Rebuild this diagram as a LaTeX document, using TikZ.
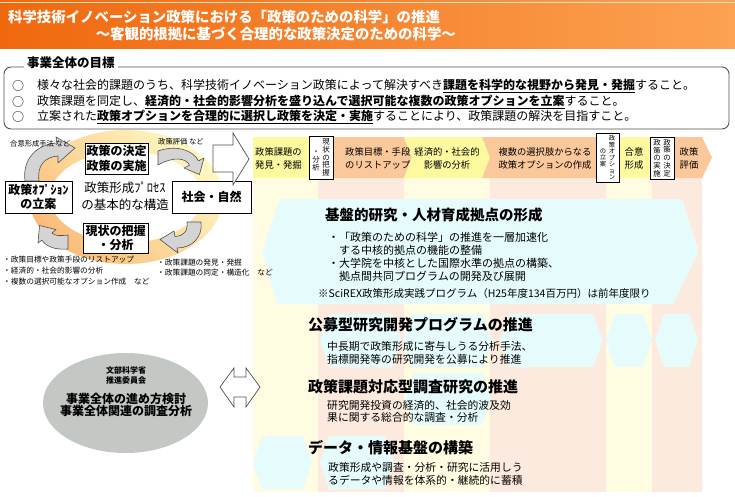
\documentclass[tikz,border=0pt]{standalone}
\usepackage{fontspec}
\setmainfont{Noto Sans CJK JP}
\usetikzlibrary{arrows.meta}
\newcommand\fsz[2]{\fontsize{#1pt}{#2pt}\selectfont}
\newcommand\hexshape[5]{\fill[cyanhex] ({#1+#5},#3) -- ({#2-#5},#3) -- (#2,{(#3+#4)/2}) -- ({#2-#5},#4) -- ({#1+#5},#4) -- (#1,{(#3+#4)/2}) -- cycle;}
\definecolor{bandY}{RGB}{252,249,158}
\definecolor{bandP}{RGB}{251,200,155}
\definecolor{colY}{RGB}{255,252,226}
\definecolor{colP}{RGB}{253,234,222}
\definecolor{cyanhex}{RGB}{230,252,252}
\definecolor{ringY}{RGB}{254,248,195}
\definecolor{ringO}{RGB}{250,188,120}
\definecolor{titleL}{RGB}{240,104,14}
\definecolor{titleR}{RGB}{252,162,82}
\definecolor{ellgray}{RGB}{196,200,196}
\definecolor{arrgray}{RGB}{212,212,212}
\definecolor{edge}{RGB}{80,80,80}
\begin{document}
\begin{tikzpicture}[x=1pt,y=-1pt,
  txt/.style={inner sep=0pt, align=left, anchor=west},
  ctxt/.style={inner sep=0pt, align=center},
  cbox/.style={draw=black, line width=0.8pt, fill=white, inner sep=0pt, align=center, font=\fsz{12}{14.5}\bfseries},
  vbox/.style={draw=black, line width=0.7pt, fill=white, inner sep=0pt},
  vcol/.style={inner sep=0pt, align=center},
  garrow/.style={fill=arrgray, draw=edge, line width=0.6pt, line join=round},
  warrow/.style={fill=white, draw=edge, line width=0.7pt, line join=miter},
  bandtxt/.style={inner sep=0pt, align=left, font=\fsz{9.3}{13}},
  rowtitle/.style={inner sep=0pt, anchor=west, font=\fsz{14.5}{16}\bfseries},
  rowtxt/.style={inner sep=0pt, anchor=north west, align=left, font=\fsz{10.8}{12.5}},
]
\useasboundingbox (0,0) rectangle (735,496);
\fill[white] (0,0) rectangle (735,496);
% ---------- title ----------
\shade[left color=titleL, right color=titleR] (0,0) rectangle (735,48);
\draw[white!60!titleR, line width=0.8pt] (0,2.5) -- (735,2.5);
\node[txt, text=white, font=\fsz{14.4}{16}\bfseries] (t1) at (8,17) {科学技術イノベーション政策における「政策のための科学」の推進};
\node[inner sep=0pt, anchor=east, text=white, font=\fsz{14.4}{16}\bfseries] (t2) at (456,34) {～客観的根拠に基づく合理的な政策決定のための科学～};
% ---------- goals ----------
\draw[edge, line width=0.9pt, rounded corners=7pt] (4,67) rectangle (729,129);
\node[txt, fill=white, inner xsep=3pt, inner ysep=1pt, font=\fsz{12.5}{14}\bfseries] (goal) at (24,63) {事業全体の目標};
\node[txt, font=\fsz{12}{14}] (g1c) at (12,86) {○};
\node[txt, font=\fsz{12}{14}] (g1) at (37,86) {様々な社会的課題のうち、科学技術イノベーション政策によって解決すべき\underline{\bfseries 課題を科学的な視野から発見・発掘}すること。};
\node[txt, font=\fsz{12}{14}] (g2c) at (12,101.5) {○};
\node[txt, font=\fsz{12}{14}] (g2) at (37,101.5) {政策課題を同定し、\underline{\bfseries 経済的・社会的影響分析を盛り込んで選択可能な複数の政策オプションを立案}すること。};
\node[txt, font=\fsz{12}{14}] (g3c) at (12,117) {○};
\node[txt, font=\fsz{12}{14}] (g3) at (37,117) {立案された\underline{\bfseries 政策オプションを合理的に選択し政策を決定・実施}することにより、政策課題の解決を目指すこと。};
% ---------- columns below band ----------
\fill[colY] (253,178) rectangle (318,492);
\fill[colP] (318,178) rectangle (404,492);
\fill[colY] (404,178) rectangle (490,492);
\fill[colP] (490,178) rectangle (606,492);
\fill[colY] (606,178) rectangle (652,492);
\fill[colP] (652,178) rectangle (702,492);
% ---------- band chevrons ----------
\fill[bandY] (253,137) -- (312,137) -- (312,178) -- (253,178) -- cycle;
\fill[bandP] (330,137) -- (404,137) -- (412,157.5) -- (404,178) -- (330,178) -- cycle;
\fill[bandY] (404,137) -- (482,137) -- (490,157.5) -- (482,178) -- (404,178) -- (412,157.5) -- cycle;
\fill[bandP] (482,137) -- (600,137) -- (600,178) -- (482,178) -- (490,157.5) -- cycle;
\fill[bandY] (616,137) -- (653,137) -- (653,178) -- (616,178) -- cycle;
\fill[bandP] (671,137) -- (702,137) -- (712,157.5) -- (702,178) -- (671,178) -- cycle;
\node[bandtxt, anchor=west] (b1) at (255,158.5) {政策課題の\\発見・発掘};
\node[bandtxt, anchor=west] (b3) at (345,158.5) {政策目標・手段\\のリストアップ};
\node[bandtxt, align=center] (b4) at (447,158.5) {経済的・社会的\\影響の分析};
\node[bandtxt, align=center] (b5) at (545,158.5) {複数の選択肢からなる\\政策オプションの作成};
\node[bandtxt, align=center] (b7) at (634,158.5) {合意\\形成};
\node[bandtxt, align=center] (b9) at (689,158.5) {政策\\評価};
% vertical boxes
\node[vbox, minimum width=24pt, minimum height=43pt] (va) at (321,157.5) {};
\node[vcol, font=\fsz{7.4}{7.8}] (va1) at (326,157.5) {現\\状\\の\\把\\握};
\node[vcol, font=\fsz{7.4}{7.8}] (va2) at (316,161) {・\\分\\析};
\node[vbox, minimum width=23pt, minimum height=49pt] (vb) at (607.5,157.5) {};
\node[vcol, font=\fsz{6.3}{6.5}] (vb1) at (612,157.5) {政\\策\\オ\\プ\\シ\\ョ\\ン};
\node[vcol, font=\fsz{6.3}{6.5}] (vb2) at (603,157.5) {の\\立\\案};
\node[vbox, minimum width=24pt, minimum height=42pt] (vc) at (662,158) {};
\node[vcol, font=\fsz{7.4}{7.8}] (vc1) at (667,158) {政\\策\\の\\決\\定};
\node[vcol, font=\fsz{7.4}{7.8}] (vc2) at (657,158) {政\\策\\の\\実\\施};
% ---------- cyan hexagons ----------
\fill[cyanhex] (280,199) -- (682,199) -- (699,251) -- (673,304) -- (277,304) -- (262,251) -- cycle;
\hexshape{320}{401}{314}{367}{9}
\hexshape{403}{492}{314}{367}{9}
\hexshape{500}{603}{314}{367}{10}
\hexshape{606}{652}{314}{367}{9}
\hexshape{655}{698}{314}{367}{9}
\hexshape{405}{491}{373}{425}{9}
\hexshape{253}{312}{436}{489}{9}
\hexshape{320}{394}{436}{489}{9}
% ---------- row texts ----------
\node[rowtitle] (r1) at (325,215) {基盤的研究・人材育成拠点の形成};
\node[rowtxt, anchor=west, font=\fsz{11}{13}] (r1a) at (328,257) {・「政策のための科学」の推進を一層加速化\\　する中核的拠点の機能の整備\\・大学院を中核とした国際水準の拠点の構築、\\　拠点間共同プログラムの開発及び展開};
\node[txt, font=\fsz{10.5}{12}] (r1n) at (318,294) {※SciREX政策形成実践プログラム（H25年度134百万円）は前年度限り};
\node[rowtitle, font=\fsz{15}{16}\bfseries] (r2) at (308,325) {公募型研究開発プログラムの推進};
\node[rowtxt, anchor=west] (r2a) at (327,353) {中長期で政策形成に寄与しうる分析手法、\\指標開発等の研究開発を公募により推進};
\node[rowtitle, font=\fsz{15}{16}\bfseries] (r3) at (308,387) {政策課題対応型調査研究の推進};
\node[rowtxt, anchor=west] (r3a) at (327,411.5) {研究開発投資の経済的、社会的波及効\\果に関する総合的な調査・分析};
\node[rowtitle, font=\fsz{15}{16}\bfseries] (r4) at (308,448) {データ・情報基盤の構築};
\node[rowtxt, anchor=west] (r4a) at (328,474) {政策形成や調査・分析・研究に活用しう\\るデータや情報を体系的・継続的に蓄積};
% ---------- cycle ----------
\shade[even odd rule, top color=ringY, bottom color=ringO, shading angle=-45]
  (126,197) ellipse [x radius=97, y radius=67] (126,197) ellipse [x radius=76, y radius=46];
\node[cbox, minimum width=63pt, minimum height=31pt] (dec) at (116.5,158.5) {政策の決定\\政策の実施};
\node[cbox, minimum width=79pt, minimum height=32pt] (soc) at (211.5,197) {社会・自然};
\node[cbox, minimum width=67pt, minimum height=32pt] (opt) at (38.5,197) {政策ｵﾌﾟｼｮﾝ\\の立案};
\node[cbox, minimum width=65pt, minimum height=30pt] (ana) at (115.5,238) {現状の把握\\・分析};
\node[ctxt, font=\fsz{12.5}{16.5}] (ctr) at (125,196) {政策形成ﾌﾟﾛｾｽ\\の基本的な構造};
% curved block arrows
\draw[garrow] (25,181) .. controls (22,158) and (38,144) .. (57,143) -- (56,137) -- (75,148) -- (58,163) -- (58,156) .. controls (44,157) and (37,166) .. (39,181) -- cycle;
\draw[garrow] (158,151) .. controls (175,145) and (192,149) .. (198.5,160.8) -- (204,158) -- (199.4,174.5) -- (184,168) -- (189.5,165.2) .. controls (186,158) and (174,156) .. (158,165) -- cycle;
\draw[garrow] (201,222) .. controls (203,237) and (192,248) .. (177,248) -- (178,253) -- (160,239.5) -- (174,231) -- (175,236.5) .. controls (184,236) and (188,231) .. (187,222) -- cycle;
\draw[garrow] (68,249) .. controls (56,250) and (46,247) .. (42,240) -- (38,243) -- (39.5,225.5) -- (56,229.5) -- (52,233) .. controls (55,236) and (60,236) .. (68,235) -- cycle;
% small labels
\node[txt, font=\fsz{7.3}{8}] (l1) at (10,143.5) {合意形成手法 など};
\node[txt, font=\fsz{7.3}{8}] (l2) at (158,141.5) {政策評価 など};
\node[rowtxt, anchor=north west, font=\fsz{7.7}{10.8}] (l3) at (3,256) {・政策目標や政策手段のリストアップ\\・経済的・社会的影響の分析\\・複数の選択可能なオプション作成　など};
\node[rowtxt, anchor=north west, font=\fsz{7.7}{10}] (l4) at (157,258.5) {・政策課題の発見・発掘\\・政策課題の同定・構造化　など};
% big right arrow
\draw[warrow] (213,145) -- (233,145) -- (233,133) -- (249,159) -- (233,185) -- (233,172) -- (213,172) -- cycle;
% ---------- ellipse ----------
\fill[ellgray] (125.5,403) ellipse [x radius=82.5, y radius=50];
\node[ctxt, font=\fsz{8}{10}\bfseries] (e1) at (126,375) {文部科学省\\推進委員会};
\node[ctxt, font=\fsz{12}{12.5}\bfseries] (e2) at (126,405) {事業全体の進め方検討\\事業全体関連の調査分析};
% double arrow
\draw[warrow] (220,387) -- (234,368) -- (234,377) -- (246,377) -- (246,368) -- (260,387) -- (246,407) -- (246,397) -- (234,397) -- (234,407) -- cycle;
\end{tikzpicture}
\end{document}
